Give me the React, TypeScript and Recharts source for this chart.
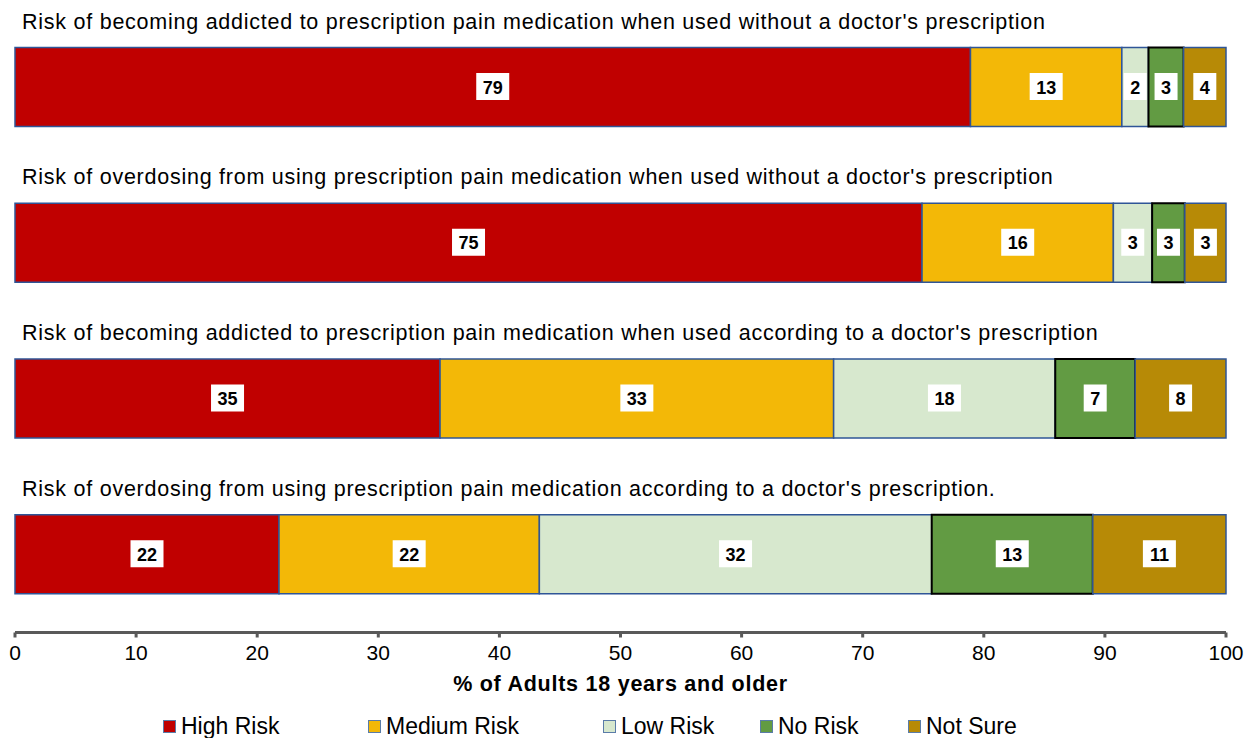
import { BarChart, Bar, XAxis, YAxis, Legend, LabelList } from 'recharts';

const questions = [
  "Risk of becoming addicted to prescription pain medication when used without a doctor's prescription",
  "Risk of overdosing from using prescription pain medication when used without a doctor's prescription",
  "Risk of becoming addicted to prescription pain medication when used according to a doctor's prescription",
  "Risk of overdosing from using prescription pain medication according to a doctor's prescription.",
];

// bar widths (percent)
const highRisk = [78.9, 74.9, 35.1, 21.8];
const mediumRisk = [12.5, 15.8, 32.5, 21.5];
const lowRisk = [2.2, 3.2, 18.3, 32.4];
const noRisk = [2.9, 2.7, 6.6, 13.3];
const notSure = [3.5, 3.4, 7.5, 11.0];

// rounded labels as printed on the bars
const highLabels = [79, 75, 35, 22];
const mediumLabels = [13, 16, 33, 22];
const lowLabels = [2, 3, 18, 32];
const noLabels = [3, 3, 7, 13];
const notSureLabels = [4, 3, 8, 11];

const xTicks = [0, 10, 20, 30, 40, 50, 60, 70, 80, 90, 100];

const series = [
  { key: 'high', name: 'High Risk', values: highRisk, labels: highLabels, color: '#C00000', stroke: '#2F5597', sw: 1.5 },
  { key: 'medium', name: 'Medium Risk', values: mediumRisk, labels: mediumLabels, color: '#F3B807', stroke: '#2F5597', sw: 1.5 },
  { key: 'low', name: 'Low Risk', values: lowRisk, labels: lowLabels, color: '#D7E8CE', stroke: '#2F5597', sw: 1.5 },
  { key: 'none', name: 'No Risk', values: noRisk, labels: noLabels, color: '#629B43', stroke: '#000000', sw: 2 },
  { key: 'unsure', name: 'Not Sure', values: notSure, labels: notSureLabels, color: '#B78A06', stroke: '#2F5597', sw: 1.5 },
];

const legendX = [163, 368, 603, 760, 908];

const data = questions.map((q, i) => {
  const row: Record<string, any> = { name: q };
  series.forEach((s) => {
    row[s.key] = s.values[i];
    row[s.key + 'Label'] = s.labels[i];
  });
  return row;
});

const FONT = '"Liberation Sans", Arial, sans-serif';

// question text sits above each bar
function QuestionLabel(props: any) {
  const { y, value } = props;
  return (
    <text x={22} y={y - 19} fontSize={21.5} letterSpacing={0.75} fontFamily={FONT} fill="#000">
      {value}
    </text>
  );
}

function BoxLabel(props: any) {
  const { x, y, width, height, value } = props;
  const cx = x + width / 2;
  const cy = y + height / 2;
  const w = String(value).length > 1 ? 33 : 23;
  return (
    <g>
      <rect x={cx - w / 2} y={cy - 14} width={w} height={27} fill="#fff" />
      <text x={cx} y={cy + 6.5} textAnchor="middle" fontSize={18} fontWeight="bold" fontFamily={FONT} fill="#000">
        {value}
      </text>
    </g>
  );
}

function LegendContent() {
  return (
    <div style={{ position: 'relative', height: 26, width: 1254, fontFamily: FONT }}>
      {series.map((s, i) => (
        <div key={s.key} style={{ position: 'absolute', left: legendX[i], top: 1, display: 'flex', alignItems: 'center', height: 26 }}>
          <span style={{ display: 'inline-block', width: 11, height: 11, background: s.color, border: '1.5px solid #5A7CA8', marginRight: 5 }} />
          <span style={{ fontSize: 23, color: '#000', lineHeight: '26px' }}>{s.name}</span>
        </div>
      ))}
    </div>
  );
}

export default function App() {
  return (
    <div style={{ position: 'fixed', left: 0, top: 0, width: 1254, height: 738, background: '#fff', overflow: 'hidden' }}>
      <BarChart
        width={1254}
        height={738}
        data={data}
        layout="vertical"
        margin={{ top: 9.5, right: 28, bottom: 0, left: 15 }}
      >
        <XAxis
          type="number"
          domain={[0, 100]}
          ticks={xTicks}
          interval={0}
          height={79.5}
          axisLine={{ stroke: '#595959', strokeWidth: 3 }}
          tickLine={{ stroke: '#595959', strokeWidth: 3 }}
          tickSize={5}
          tickMargin={8}
          tick={{ fontSize: 21, fontFamily: FONT, fill: '#000' }}
          label={{ value: '%  of Adults 18 years and older', position: 'insideTop', offset: 43, fontSize: 21.5, letterSpacing: 0.75, fontWeight: 'bold', fontFamily: FONT, fill: '#000' }}
        />
        <YAxis type="category" dataKey="name" width={0} hide />
        <Legend verticalAlign="bottom" content={<LegendContent />} wrapperStyle={{ left: 0, width: 1254, height: 26 }} />
        {series.map((s, idx) => (
          <Bar
            key={s.key}
            dataKey={s.key}
            name={s.name}
            stackId="a"
            barSize={79}
            fill={s.color}
            stroke={s.stroke}
            strokeWidth={s.sw}
            isAnimationActive={false}
          >
            <LabelList dataKey={s.key + 'Label'} content={<BoxLabel />} />
            {idx === 0 && <LabelList dataKey="name" content={<QuestionLabel />} />}
          </Bar>
        ))}
      </BarChart>
    </div>
  );
}
